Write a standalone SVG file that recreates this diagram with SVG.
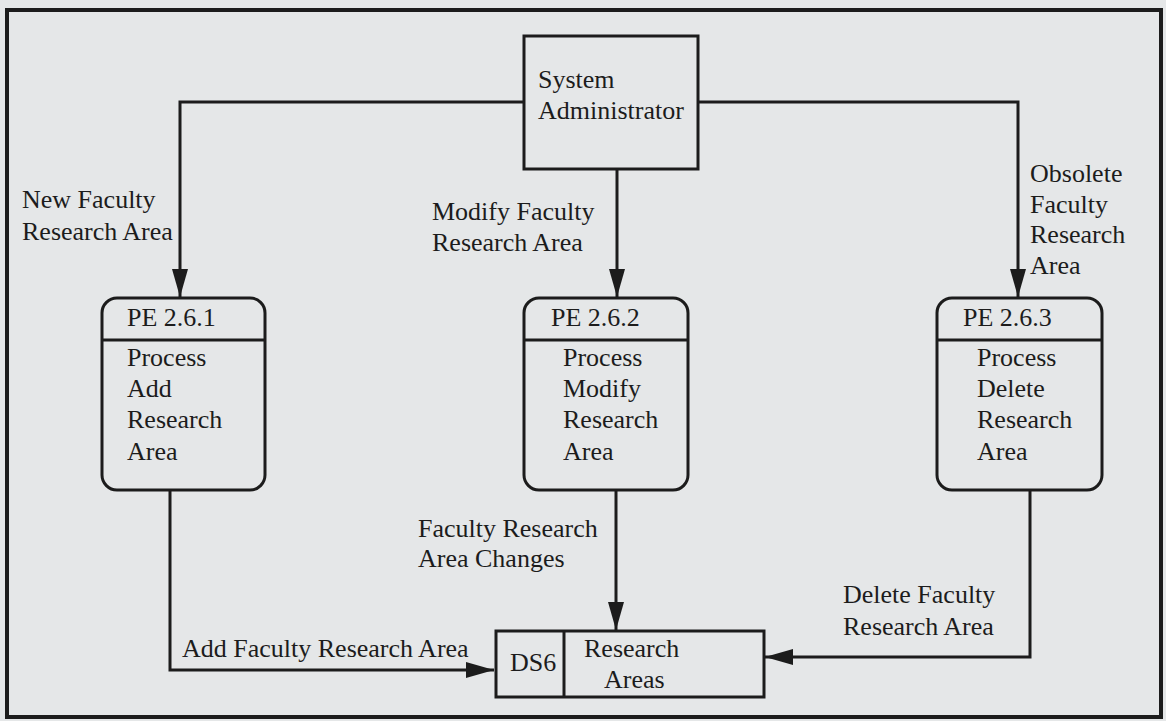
<svg xmlns="http://www.w3.org/2000/svg" width="1166" height="721" viewBox="0 0 1166 721">
<defs>
<style>
text{font-family:"Liberation Serif","Tinos","DejaVu Serif",serif;font-size:26px;fill:#1c1c1c}
.box{fill:none;stroke:#1c1c1c;stroke-width:3}
.ln{fill:none;stroke:#1c1c1c;stroke-width:3}
</style>
<marker id="ah" markerUnits="userSpaceOnUse" markerWidth="30" markerHeight="18" refX="28" refY="8" orient="auto">
<path d="M0,0 L28,8 L0,16 Z" fill="#1c1c1c"/>
</marker>
</defs>
<rect x="0" y="0" width="1166" height="721" fill="#e5e7e8"/>
<rect x="7" y="10" width="1154" height="707" fill="none" stroke="#1c1c1c" stroke-width="4"/>

<g id="connectors" font-family="Liberation Serif, serif">
<path class="ln" d="M523,102 H180 V297" marker-end="url(#ah)"/>
<path class="ln" d="M617,169 V297" marker-end="url(#ah)"/>
<path class="ln" d="M698,102 H1018 V297" marker-end="url(#ah)"/>
<path class="ln" d="M170,490 V670 H494" marker-end="url(#ah)"/>
<path class="ln" d="M616,490 V630" marker-end="url(#ah)"/>
<path class="ln" d="M1030,490 V657 H765" marker-end="url(#ah)"/>
<text x="22" y="208">New Faculty</text>
<text x="22" y="240">Research Area</text>
<text x="432" y="220">Modify Faculty</text>
<text x="432" y="251">Research Area</text>
<text x="1030" y="182">Obsolete</text>
<text x="1030" y="213">Faculty</text>
<text x="1030" y="243">Research</text>
<text x="1030" y="274">Area</text>
<text x="418" y="537">Faculty Research</text>
<text x="418" y="567">Area Changes</text>
<text x="182" y="657">Add Faculty Research Area</text>
<text x="843" y="603">Delete Faculty</text>
<text x="843" y="635">Research Area</text>
</g>

<g id="sysadmin">
<rect class="box" x="524" y="36" width="174" height="133"/>
<text x="538" y="88">System</text>
<text x="538" y="119">Administrator</text>
</g>

<g id="pe261">
<rect class="box" x="102" y="298" width="163" height="192" rx="15"/>
<line class="ln" x1="102" y1="340" x2="265" y2="340"/>
<text x="127" y="326">PE 2.6.1</text>
<text x="127" y="366">Process</text>
<text x="127" y="397">Add</text>
<text x="127" y="428">Research</text>
<text x="127" y="460">Area</text>
</g>

<g id="pe262">
<rect class="box" x="524" y="298" width="164" height="192" rx="15"/>
<line class="ln" x1="524" y1="340" x2="688" y2="340"/>
<text x="551" y="326">PE 2.6.2</text>
<text x="563" y="366">Process</text>
<text x="563" y="397">Modify</text>
<text x="563" y="428">Research</text>
<text x="563" y="460">Area</text>
</g>

<g id="pe263">
<rect class="box" x="937" y="298" width="165" height="192" rx="15"/>
<line class="ln" x1="937" y1="340" x2="1102" y2="340"/>
<text x="963" y="326">PE 2.6.3</text>
<text x="977" y="366">Process</text>
<text x="977" y="397">Delete</text>
<text x="977" y="428">Research</text>
<text x="977" y="460">Area</text>
</g>

<g id="ds6">
<rect class="box" x="496" y="631" width="268" height="66"/>
<line class="ln" x1="564" y1="631" x2="564" y2="697"/>
<text x="510" y="671">DS6</text>
<text x="584" y="657">Research</text>
<text x="604" y="688">Areas</text>
</g>
</svg>
